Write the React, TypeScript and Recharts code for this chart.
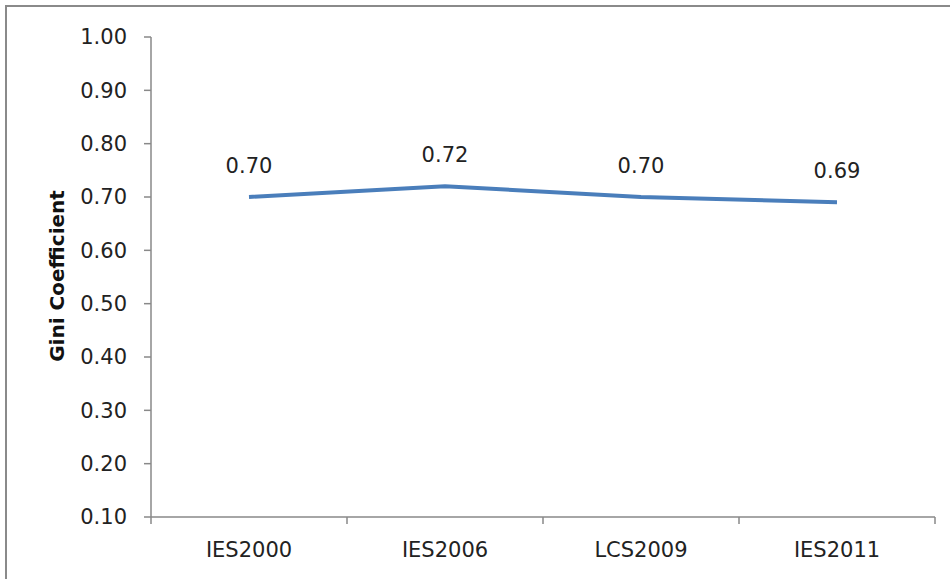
import { CartesianGrid, Label, LabelList, Line, LineChart, XAxis, YAxis } from "recharts";

const surveys = ["IES2000", "IES2006", "LCS2009", "IES2011"];
const gini = [0.7, 0.72, 0.7, 0.69];
const yTicks = [0.1, 0.2, 0.3, 0.4, 0.5, 0.6, 0.7, 0.8, 0.9, 1.0];

const data = surveys.map((name, i) => ({ name, gini: gini[i] }));

const AXIS = "#898989";
const PAD = 98;
const FONT = "'DejaVu Sans', sans-serif";

function XTick(props: any) {
  const { x, y, payload, index, visibleTicksCount } = props;
  const last = index === visibleTicksCount - 1;
  return (
    <g>
      <line x1={x - PAD} x2={x - PAD} y1={y} y2={y + 7} stroke={AXIS} strokeWidth={1.5} />
      {last && <line x1={x + PAD} x2={x + PAD} y1={y} y2={y + 7} stroke={AXIS} strokeWidth={1.5} />}
      <text x={x} y={y + 40} textAnchor="middle" fill="#222" fontSize={21} fontFamily={FONT}>
        {payload.value}
      </text>
    </g>
  );
}

export default function App() {
  return (
    <div style={{ position: "absolute", left: 0, top: 0, width: 950, height: 579, overflow: "hidden", background: "#fff" }}>
      <div
        style={{
          position: "absolute",
          left: 5,
          top: 5,
          width: 1000,
          height: 1000,
          border: "2px solid #8a8a8a",
        }}
      />
      <LineChart
        width={950}
        height={579}
        data={data}
        margin={{ top: 37, right: 15, bottom: 0, left: 0 }}
        style={{ position: "absolute", left: 0, top: 0 }}
      >
        <CartesianGrid stroke="none" />
        <XAxis
          dataKey="name"
          height={62}
          padding={{ left: PAD, right: PAD }}
          axisLine={{ stroke: AXIS, strokeWidth: 1.5 }}
          tickLine={false}
          tickSize={0}
          tickMargin={0}
          tick={<XTick />}
          interval={0}
        />
        <YAxis
          width={151}
          domain={[0.1, 1.0]}
          ticks={yTicks}
          interval={0}
          tickFormatter={(v: number) => v.toFixed(2)}
          axisLine={{ stroke: AXIS, strokeWidth: 1.5 }}
          tickLine={{ stroke: AXIS, strokeWidth: 1.5 }}
          tickSize={7}
          tickMargin={17}
          tick={{ fill: "#222", fontSize: 21, fontFamily: FONT }}
        >
          <Label
            content={() => (
              <text
                x={64}
                y={276}
                transform="rotate(-90 64 276)"
                textAnchor="middle"
                fontSize={20}
                fontWeight="bold"
                fontFamily={FONT}
                fill="#111"
              >
                Gini Coefficient
              </text>
            )}
          />
        </YAxis>
        <Line
          type="linear"
          dataKey="gini"
          stroke="#4a7ebb"
          strokeWidth={4}
          dot={false}
          activeDot={false}
          isAnimationActive={false}
        >
          <LabelList
            dataKey="gini"
            position="top"
            offset={24}
            formatter={(v: any) => Number(v).toFixed(2)}
            style={{ fill: "#222", fontSize: 21, fontFamily: FONT }}
          />
        </Line>
      </LineChart>
    </div>
  );
}
